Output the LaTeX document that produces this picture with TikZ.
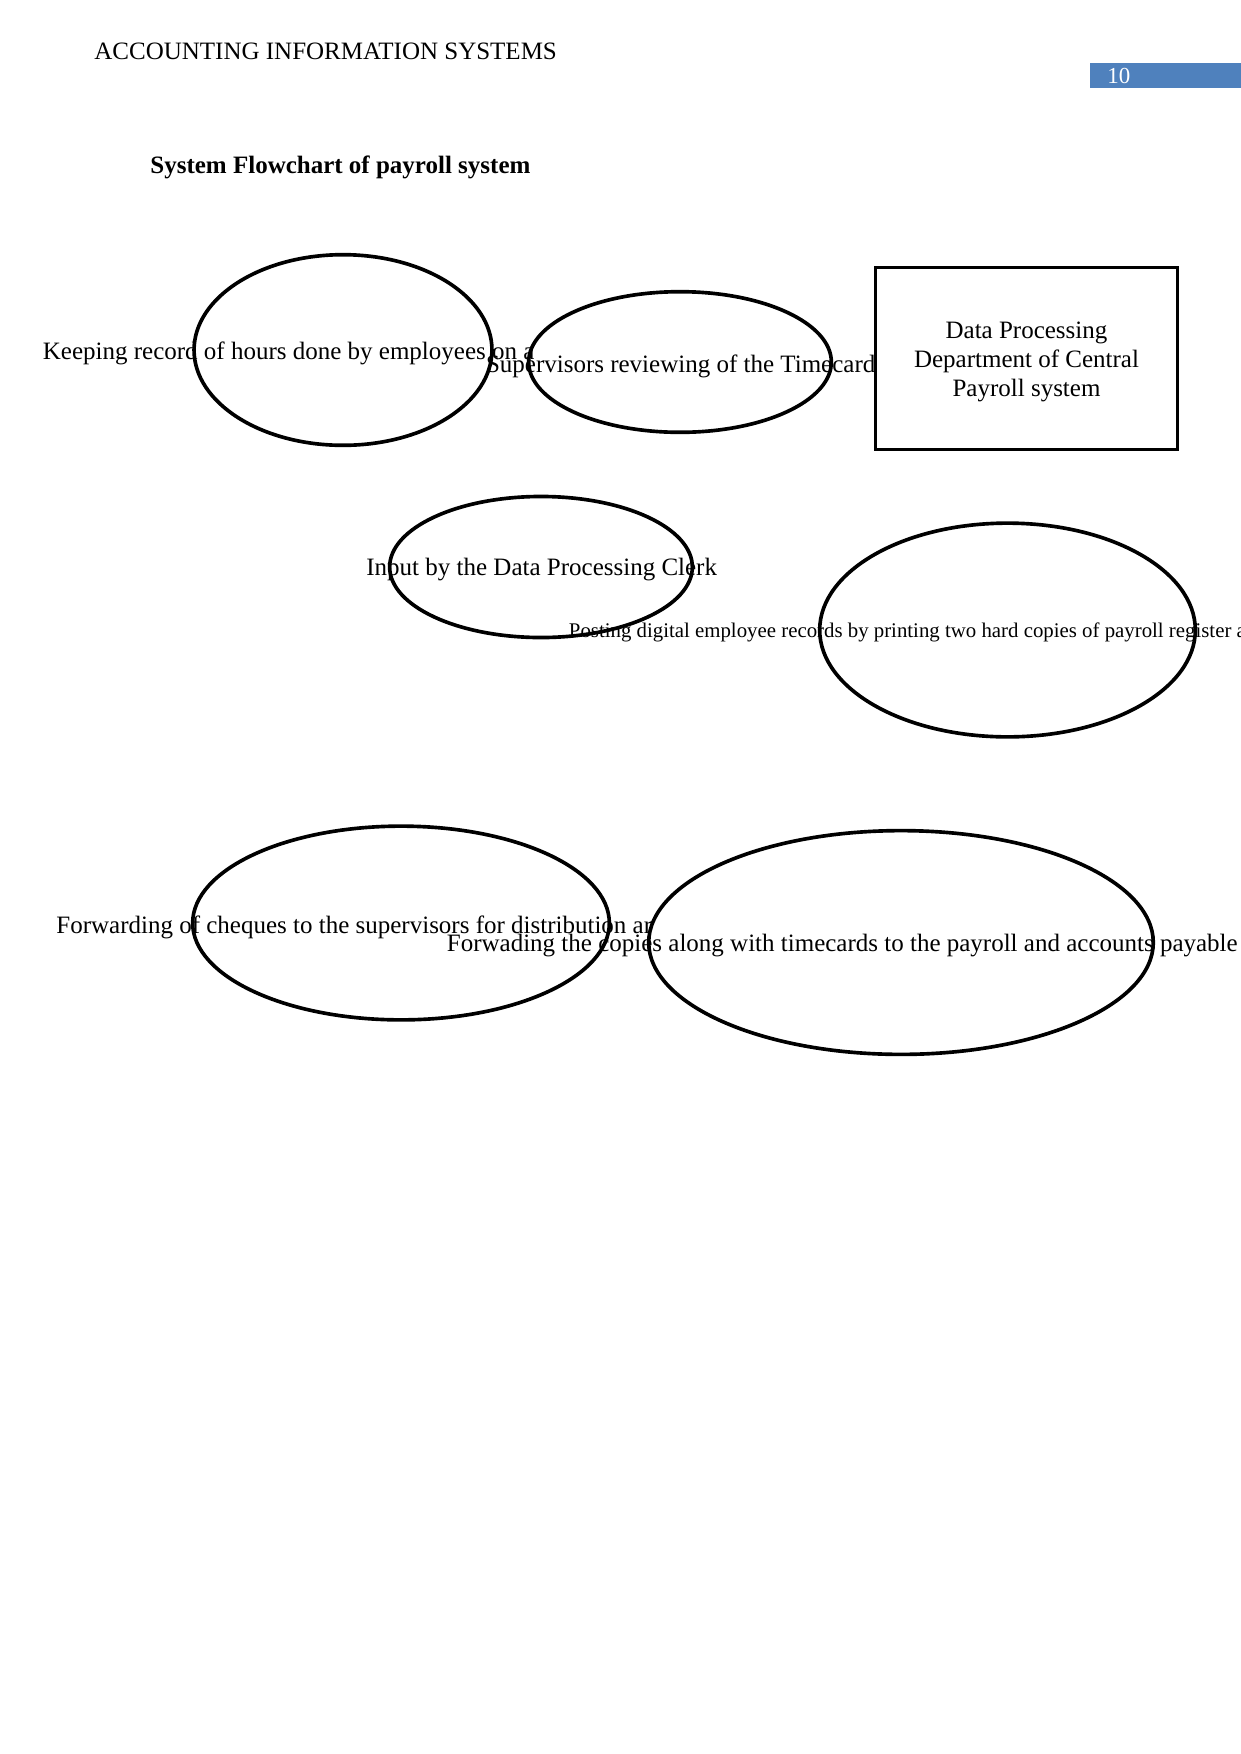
\documentclass[tikz,border=0pt]{standalone}
\usepackage{fontspec}
\setmainfont{Liberation Serif}
\usetikzlibrary{shapes.geometric}
\definecolor{pagebox}{HTML}{4F81BD}
\tikzset{
  txt/.style={inner sep=0pt, anchor=west, font=\fontsize{12}{13.8}\selectfont},
  smalltxt/.style={inner sep=0pt, anchor=west, font=\fontsize{10}{12}\selectfont},
  ell/.style={draw, ellipse, line width=1.75pt, inner sep=0pt},
  boxshape/.style={draw, rectangle, line width=1.75pt, inner sep=0pt},
  boxtext/.style={inner sep=0pt, align=center, font=\fontsize{12}{13.8}\selectfont}
}
\begin{document}
\begin{tikzpicture}[x=0.48pt, y=-0.48pt]
\useasboundingbox (0,0) rectangle (1241,1754);
\clip (0,0) rectangle (1241,1754);
% header
\node[txt] (header) at (94,51) {ACCOUNTING INFORMATION SYSTEMS};
\fill[pagebox] (1090,63) rectangle (1241,88);
\node[txt, text=white, font=\fontsize{11}{13}\selectfont] (pagenum) at (1107,76) {10};
% title
\node[txt, font=\bfseries\fontsize{12}{13.8}\selectfont] (title) at (150,167) {System Flowchart of payroll system};
% texts
\node[txt] (t1) at (42.5,353) {Keeping record of hours done by employees on a};
\node[txt] (t2) at (485.6,366.5) {Supervisors reviewing of the Timecard};
\node[txt] (t3) at (366,570) {Input by the Data Processing Clerk};
\node[smalltxt] (t4) at (568.5,632) {Posting digital employee records by printing two hard copies of payroll register a};
\node[txt] (t5) at (56,927) {Forwarding of cheques to the supervisors for distribution ar};
\node[txt] (t6) at (446.5,946) {Forwading the copies along with timecards to the payroll and accounts payable};
% shapes
\node[ell, minimum width=143pt, minimum height=91.5pt] (e1) at (343,350) {};
\node[ell, minimum width=145.3pt, minimum height=67.5pt] (e2) at (680,362) {};
\node[boxshape, minimum width=144.8pt, minimum height=87.2pt] (dp) at (1026.5,358.5) {};
\node[boxtext] (dptext) at (1026.5,362) {Data Processing\\Department of Central\\Payroll system};
\node[ell, minimum width=145.3pt, minimum height=67.7pt] (e3) at (541,567) {};
\node[ell, minimum width=180.3pt, minimum height=102.6pt] (e4) at (1007.5,630) {};
\node[ell, minimum width=200pt, minimum height=93pt] (e5) at (401,923) {};
\node[ell, minimum width=242.2pt, minimum height=107.4pt] (e6) at (901,942.5) {};
\end{tikzpicture}
\end{document}
